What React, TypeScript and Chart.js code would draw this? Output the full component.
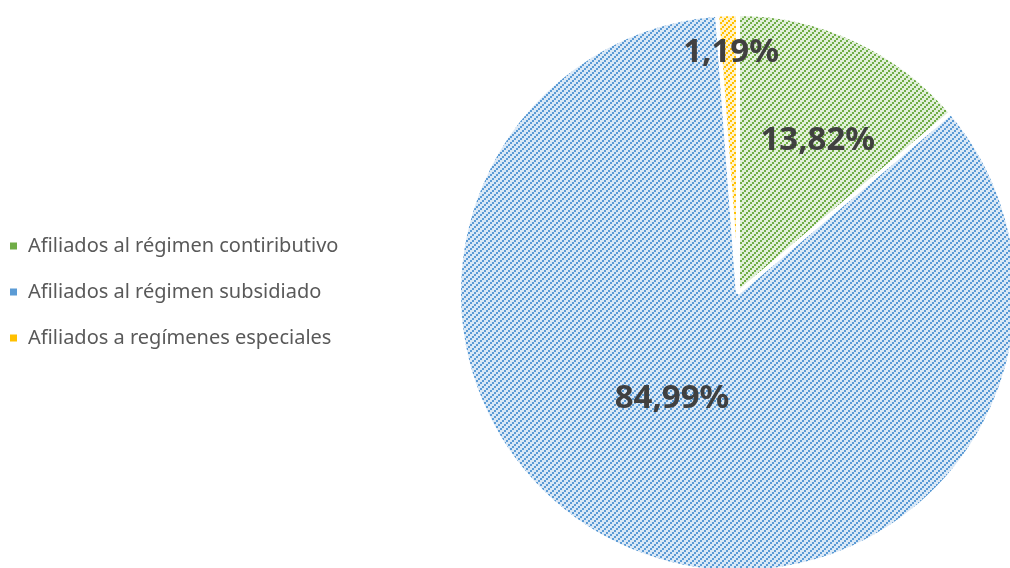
import React, { useEffect, useRef } from 'react';
import { Chart, registerables } from 'chart.js';

Chart.register(...registerables);

const categories = [
  'Afiliados al régimen contiributivo',
  'Afiliados al régimen subsidiado',
  'Afiliados a regímenes especiales',
];
const values = [13.82, 84.99, 1.19];
const valueLabels = ['13,82%', '84,99%', '1,19%'];
const darkColors = ['#70ad47', '#5b9bd5', '#ffc000'];
const lightColors = ['#e2efda', '#dae8f6', '#fff2cc'];
const labelAngleOffsets = [2.5, 9.7, 0.5];
const labelRadiusFractions = [0.622, 0.441, 0.871];

function makePattern(dark: string, light: string): CanvasPattern | string {
  const c = document.createElement('canvas');
  c.width = 6;
  c.height = 6;
  const ctx = c.getContext('2d');
  if (!ctx) return dark;
  ctx.fillStyle = light;
  ctx.fillRect(0, 0, 6, 6);
  ctx.fillStyle = dark;
  for (let by = 0; by < 3; by++) {
    for (let bx = 0; bx < 3; bx++) {
      if ((bx + by) % 3 === 2) ctx.fillRect(bx * 2, by * 2, 2, 2);
    }
  }
  const p = ctx.createPattern(c, 'repeat');
  return p || dark;
}

export default function App() {
  const ref = useRef<HTMLCanvasElement | null>(null);

  useEffect(() => {
    const canvas = ref.current;
    if (!canvas) return;
    const patterns = darkColors.map((d, i) => makePattern(d, lightColors[i]));

    const labelPlugin = {
      id: 'sliceLabels',
      afterDatasetsDraw(chart: any) {
        const ctx = chart.ctx;
        const meta = chart.getDatasetMeta(0);
        ctx.save();
        ctx.font = 'bold 33px "Noto Sans"';
        ctx.fillStyle = '#404040';
        ctx.textAlign = 'center';
        ctx.textBaseline = 'alphabetic';
        meta.data.forEach((arc: any, i: number) => {
          const p = arc.getProps(['x', 'y', 'startAngle', 'endAngle', 'outerRadius'], true);
          const mid = (p.startAngle + p.endAngle) / 2 + (labelAngleOffsets[i] * Math.PI) / 180;
          const r = p.outerRadius * labelRadiusFractions[i];
          const x = p.x + Math.cos(mid) * r;
          const y = p.y + Math.sin(mid) * r;
          const m = ctx.measureText('0');
          const asc = m.actualBoundingBoxAscent || 24;
          ctx.fillText(valueLabels[i], x, y + asc / 2);
        });
        ctx.restore();
      },
    };

    const legendPlugin = {
      id: 'customLegend',
      afterDraw(chart: any) {
        const ctx = chart.ctx;
        ctx.save();
        ctx.font = '20px "Noto Sans"';
        ctx.textAlign = 'left';
        ctx.textBaseline = 'middle';
        const rowY = [246, 292, 338];
        categories.forEach((c, i) => {
          ctx.fillStyle = darkColors[i];
          ctx.fillRect(10, rowY[i] - 3.5, 7, 7);
          ctx.fillStyle = '#595959';
          ctx.fillText(c, 28, rowY[i]);
        });
        ctx.restore();
      },
    };

    const chart = new Chart(canvas, {
      type: 'pie',
      data: {
        labels: categories,
        datasets: [
          {
            data: values,
            backgroundColor: patterns as any,
            borderColor: '#ffffff',
            borderWidth: 4,
            radius: 279,
            clip: false as any,
          } as any,
        ],
      },
      options: {
        responsive: false,
        animation: false,
        devicePixelRatio: 1,
        events: [],
        layout: { padding: { left: 466, right: 0, top: 18, bottom: 0 } },
        plugins: {
          legend: { display: false },
          tooltip: { enabled: false },
        },
      },
      plugins: [labelPlugin, legendPlugin],
    });

    return () => chart.destroy();
  }, []);

  return (
    <div style={{ position: 'absolute', left: 0, top: 0, width: 1010, height: 568, background: '#fff' }}>
      <canvas ref={ref} width={1010} height={568} />
    </div>
  );
}
